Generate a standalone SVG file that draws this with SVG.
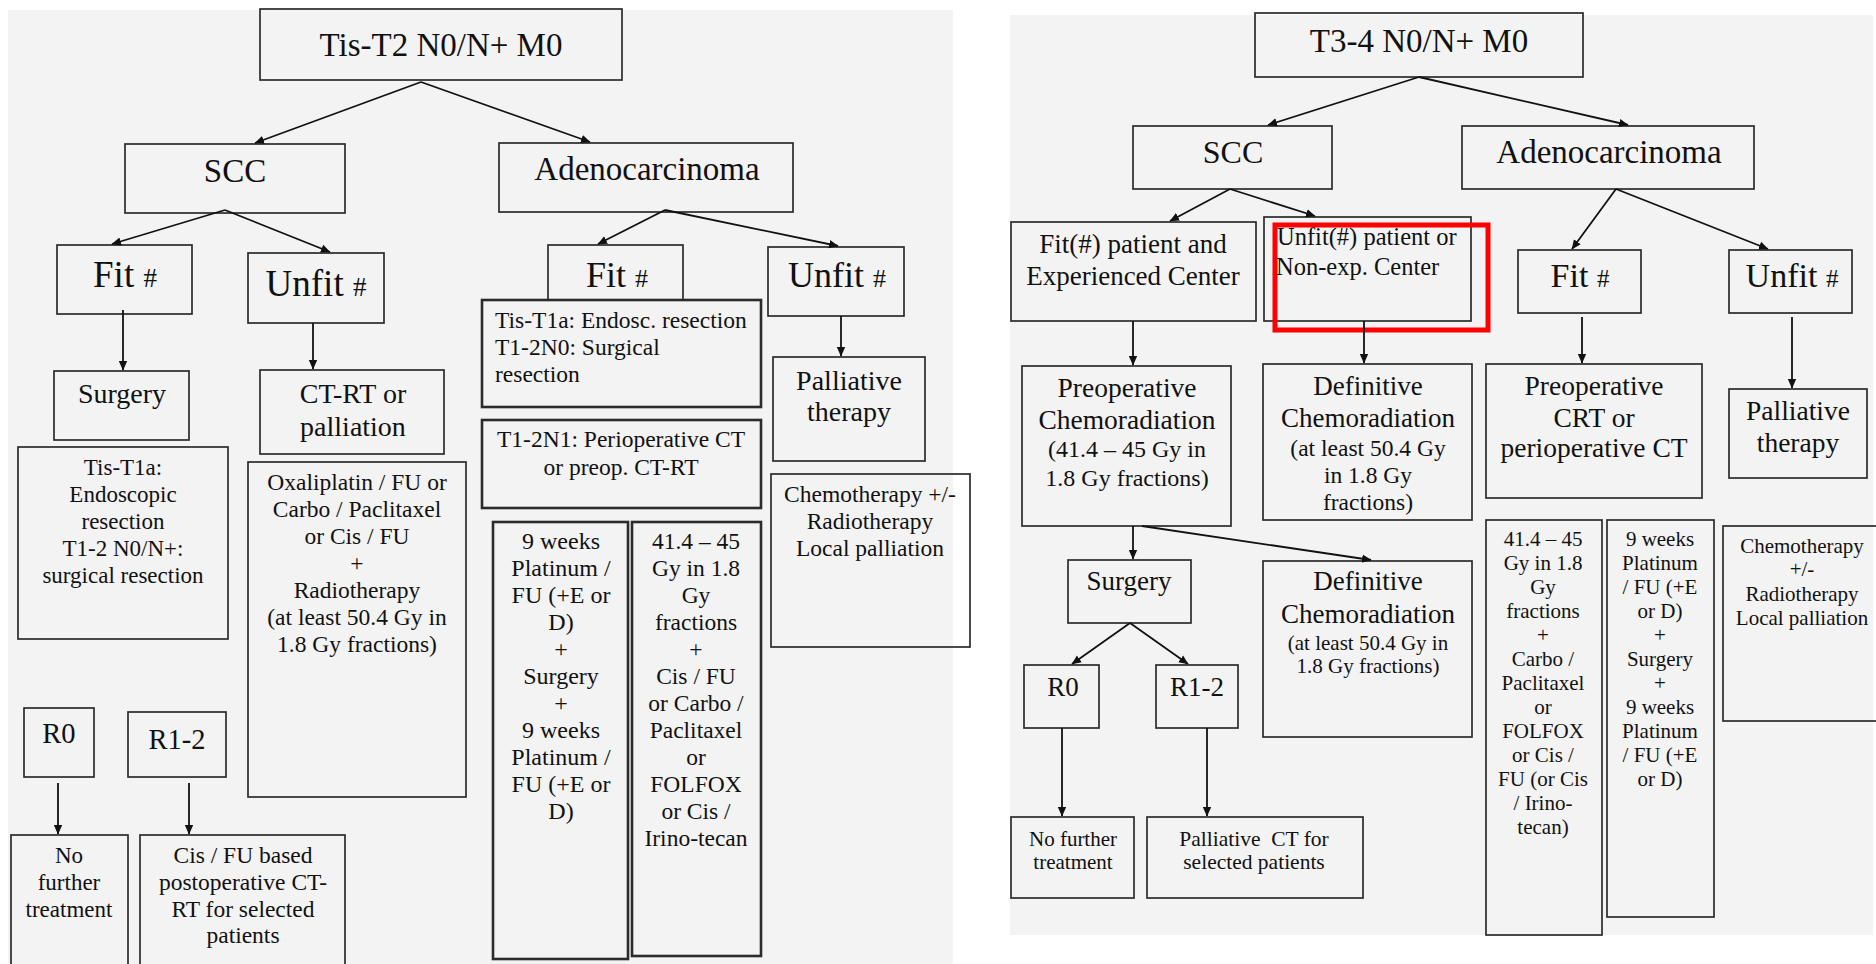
<svg xmlns="http://www.w3.org/2000/svg" width="1876" height="964" viewBox="0 0 1876 964" style="font-family: 'Liberation Serif', serif !important">
  <defs>
    <marker id="arrow" markerUnits="userSpaceOnUse" markerWidth="10" markerHeight="10" refX="9" refY="5" orient="auto">
      <path d="M0,0.8 L9.5,5 L0,9.2 z" fill="#111"/>
    </marker>
  </defs>
  <style>
    text, tspan { font-family: 'Liberation Serif', serif !important; }
    text { fill: #111; text-anchor: middle; }
    .l { text-anchor: start; }
    .panel { fill: #f3f3f3; }
    .box { fill: none; stroke: #2b2b2b; stroke-width: 1.7; }
    .boxf { fill: #f3f3f3; stroke: #2b2b2b; stroke-width: 2.6; }
    .thick { stroke-width: 2.6; }
    .hl { fill: none; stroke: #ff0000; stroke-width: 5; }
    .conn line { stroke: #111; stroke-width: 1.8; marker-end: url(#arrow); }
  </style>

  <rect width="1876" height="964" fill="#ffffff"/>
  <!-- two side-by-side flowcharts -->
  <rect class="panel" x="8" y="10" width="945" height="954"/>
  <rect class="panel" x="1010" y="15" width="863" height="920"/>

  <!-- ===== Tis-T2 flowchart ===== -->
  <g id="chart-left">
  <g id="top-left"><rect class="box" x="260" y="9" width="362" height="71"/>
    <text font-family="Liberation Serif" x="441" y="56" font-size="33">Tis-T2 N0/N+ M0</text></g>
  <g id="scc-left"><rect class="box" x="125" y="144" width="220" height="69"/>
    <text font-family="Liberation Serif" x="235" y="182" font-size="33">SCC</text></g>
  <g id="adeno-left"><rect class="box" x="499" y="143" width="294" height="69"/>
    <text font-family="Liberation Serif" x="647" y="180" font-size="33">Adenocarcinoma</text></g>
  <g id="fit-scc-left"><rect class="box" x="57" y="245" width="135" height="69"/>
    <text font-family="Liberation Serif" x="125" y="287" font-size="37">Fit <tspan font-size="27">#</tspan></text></g>
  <g id="unfit-scc-left"><rect class="box" x="248" y="253" width="136" height="70"/>
    <text font-family="Liberation Serif" x="316" y="296" font-size="37">Unfit <tspan font-size="27">#</tspan></text></g>
  <g id="surgery-left"><rect class="box" x="54" y="371" width="135" height="69"/>
    <text font-family="Liberation Serif" x="122" y="403" font-size="28">Surgery</text></g>
  <g id="ctrt-left"><rect class="box" x="260" y="370" width="184" height="84"/>
    <text font-family="Liberation Serif" x="353" y="403" font-size="28">CT-RT or</text>
    <text font-family="Liberation Serif" x="353" y="436" font-size="28">palliation</text></g>
  <g id="surgery-detail-left"><rect class="box" x="18" y="447" width="210" height="192"/>
    <text font-family="Liberation Serif" font-size="23"><tspan x="123" y="475">Tis-T1a:</tspan><tspan x="123" y="502">Endoscopic</tspan><tspan x="123" y="529">resection</tspan><tspan x="123" y="556">T1-2 N0/N+:</tspan><tspan x="123" y="583">surgical resection</tspan></text></g>
  <g id="ctrt-detail-left"><rect class="box" x="248" y="462" width="218" height="335"/>
    <text font-family="Liberation Serif" font-size="23.5"><tspan x="357" y="490">Oxaliplatin / FU or</tspan><tspan x="357" y="517">Carbo / Paclitaxel</tspan><tspan x="357" y="544">or Cis / FU</tspan><tspan x="357" y="571">+</tspan><tspan x="357" y="598">Radiotherapy</tspan><tspan x="357" y="625">(at least 50.4 Gy in</tspan><tspan x="357" y="652">1.8 Gy fractions)</tspan></text></g>
  <g id="r0-left"><rect class="box" x="24" y="708" width="70" height="69"/>
    <text font-family="Liberation Serif" x="59" y="743" font-size="28.5">R0</text></g>
  <g id="r12-left"><rect class="box" x="128" y="712" width="98" height="65"/>
    <text font-family="Liberation Serif" x="177" y="749" font-size="28.5">R1-2</text></g>
  <g id="no-further-left"><rect class="box" x="11" y="835" width="117" height="140"/>
    <text font-family="Liberation Serif" font-size="23"><tspan x="69" y="863">No</tspan><tspan x="69" y="890">further</tspan><tspan x="69" y="917">treatment</tspan></text></g>
  <g id="postop-left"><rect class="box" x="140" y="835" width="205" height="140"/>
    <text font-family="Liberation Serif" font-size="23.5"><tspan x="243" y="863">Cis / FU based</tspan><tspan x="243" y="890">postoperative CT-</tspan><tspan x="243" y="917">RT for selected</tspan><tspan x="243" y="943">patients</tspan></text></g>

  <g id="fit-adeno-left"><rect class="box" x="548" y="245" width="135" height="60"/>
    <text font-family="Liberation Serif" x="617" y="287" font-size="36">Fit <tspan font-size="26">#</tspan></text></g>
  <g id="unfit-adeno-left"><rect class="box" x="768" y="247" width="136" height="69"/>
    <text font-family="Liberation Serif" x="837" y="287" font-size="36">Unfit <tspan font-size="26">#</tspan></text></g>
  <g id="resection-adeno-left"><rect class="boxf" x="482" y="300" width="279" height="107"/>
    <text class="l" font-family="Liberation Serif" font-size="23.5"><tspan x="495" y="328">Tis-T1a: Endosc. resection</tspan><tspan x="495" y="355">T1-2N0: Surgical</tspan><tspan x="495" y="382">resection</tspan></text></g>
  <g id="palliative-left"><rect class="box" x="773" y="357" width="152" height="104"/>
    <text font-family="Liberation Serif" x="849" y="390" font-size="28">Palliative</text>
    <text font-family="Liberation Serif" x="849" y="421" font-size="28">therapy</text></g>
  <g id="periop-left"><rect class="box thick" x="482" y="420" width="279" height="88"/>
    <text font-family="Liberation Serif" font-size="23.5"><tspan x="621" y="447">T1-2N1: Perioperative CT</tspan><tspan x="621" y="475">or preop. CT-RT</tspan></text></g>
  <g id="weeks-left"><rect class="box thick" x="493" y="522" width="135" height="437"/>
    <text font-family="Liberation Serif" font-size="24"><tspan x="561" y="549">9 weeks</tspan><tspan x="561" y="576">Platinum /</tspan><tspan x="561" y="603">FU (+E or</tspan><tspan x="561" y="630">D)</tspan><tspan x="561" y="657">+</tspan><tspan x="561" y="684">Surgery</tspan><tspan x="561" y="711">+</tspan><tspan x="561" y="738">9 weeks</tspan><tspan x="561" y="765">Platinum /</tspan><tspan x="561" y="792">FU (+E or</tspan><tspan x="561" y="819">D)</tspan></text></g>
  <g id="gy-left"><rect class="box thick" x="632" y="522" width="129" height="434"/>
    <text font-family="Liberation Serif" font-size="23.5"><tspan x="696" y="549">41.4 – 45</tspan><tspan x="696" y="576">Gy in 1.8</tspan><tspan x="696" y="603">Gy</tspan><tspan x="696" y="630">fractions</tspan><tspan x="696" y="657">+</tspan><tspan x="696" y="684">Cis / FU</tspan><tspan x="696" y="711">or Carbo /</tspan><tspan x="696" y="738">Paclitaxel</tspan><tspan x="696" y="765">or</tspan><tspan x="696" y="792">FOLFOX</tspan><tspan x="696" y="819">or Cis /</tspan><tspan x="696" y="846">Irino-tecan</tspan></text></g>
  <g id="chemo-left"><rect class="box" x="771" y="474" width="199" height="173"/>
    <text font-family="Liberation Serif" font-size="23.5"><tspan x="870" y="502">Chemotherapy +/-</tspan><tspan x="870" y="529">Radiotherapy</tspan><tspan x="870" y="556">Local palliation</tspan></text></g>
  </g>

  <!-- ===== T3-4 flowchart ===== -->
  <g id="chart-right">
  <g id="top-right"><rect class="box" x="1255" y="13" width="328" height="64"/>
    <text font-family="Liberation Serif" x="1419" y="52" font-size="33">T3-4 N0/N+ M0</text></g>
  <g id="scc-right"><rect class="box" x="1133" y="126" width="199" height="63"/>
    <text font-family="Liberation Serif" x="1233" y="163" font-size="32">SCC</text></g>
  <g id="adeno-right"><rect class="box" x="1462" y="126" width="292" height="63"/>
    <text font-family="Liberation Serif" x="1609" y="163" font-size="33">Adenocarcinoma</text></g>
  <g id="fit-center-right"><rect class="box" x="1011" y="222" width="245" height="99"/>
    <text font-family="Liberation Serif" font-size="27"><tspan x="1133" y="253">Fit(#) patient and</tspan><tspan x="1133" y="285">Experienced Center</tspan></text></g>
  <g id="unfit-center-right"><rect class="box" x="1264" y="217" width="207" height="104"/>
    <text class="l" font-family="Liberation Serif" font-size="24.5"><tspan x="1277" y="245">Unfit(#) patient or</tspan><tspan x="1276" y="275">Non-exp. Center</tspan></text></g>
  <rect id="highlight" class="hl" x="1275" y="225" width="213" height="105"/>
  <g id="fit-adeno-right"><rect class="box" x="1518" y="250" width="123" height="63"/>
    <text font-family="Liberation Serif" x="1580" y="287" font-size="34">Fit <tspan font-size="25">#</tspan></text></g>
  <g id="unfit-adeno-right"><rect class="box" x="1729" y="250" width="123" height="63"/>
    <text font-family="Liberation Serif" x="1792" y="287" font-size="34">Unfit <tspan font-size="25">#</tspan></text></g>
  <g id="preop-crt"><rect class="box" x="1022" y="366" width="209" height="160"/>
    <text font-family="Liberation Serif" x="1127" y="397" font-size="27.5">Preoperative</text>
    <text font-family="Liberation Serif" x="1127" y="429" font-size="27.5">Chemoradiation</text>
    <text font-family="Liberation Serif" font-size="24"><tspan x="1127" y="457">(41.4 – 45 Gy in</tspan><tspan x="1127" y="486">1.8 Gy fractions)</tspan></text></g>
  <g id="definitive-1"><rect class="box" x="1263" y="364" width="209" height="156"/>
    <text font-family="Liberation Serif" x="1368" y="395" font-size="27">Definitive</text>
    <text font-family="Liberation Serif" x="1368" y="427" font-size="27">Chemoradiation</text>
    <text font-family="Liberation Serif" font-size="23.5"><tspan x="1368" y="456">(at least 50.4 Gy</tspan><tspan x="1368" y="483">in 1.8 Gy</tspan><tspan x="1368" y="510">fractions)</tspan></text></g>
  <g id="preop-periop-right"><rect class="box" x="1486" y="364" width="216" height="134"/>
    <text font-family="Liberation Serif" font-size="27.5"><tspan x="1594" y="395">Preoperative</tspan><tspan x="1594" y="427">CRT or</tspan><tspan x="1594" y="457">perioperative CT</tspan></text></g>
  <g id="palliative-right"><rect class="box" x="1729" y="389" width="138" height="89"/>
    <text font-family="Liberation Serif" font-size="27.5"><tspan x="1798" y="420">Palliative</tspan><tspan x="1798" y="452">therapy</tspan></text></g>
  <g id="surgery-right"><rect class="box" x="1068" y="560" width="123" height="63"/>
    <text font-family="Liberation Serif" x="1129" y="590" font-size="27">Surgery</text></g>
  <g id="definitive-2"><rect class="box" x="1263" y="561" width="209" height="176"/>
    <text font-family="Liberation Serif" x="1368" y="590" font-size="27">Definitive</text>
    <text font-family="Liberation Serif" x="1368" y="623" font-size="27">Chemoradiation</text>
    <text font-family="Liberation Serif" font-size="21"><tspan x="1368" y="650">(at least 50.4 Gy in</tspan><tspan x="1368" y="673">1.8 Gy fractions)</tspan></text></g>
  <g id="r0-right"><rect class="box" x="1024" y="665" width="75" height="63"/>
    <text font-family="Liberation Serif" x="1063" y="696" font-size="27">R0</text></g>
  <g id="r12-right"><rect class="box" x="1156" y="665" width="82" height="63"/>
    <text font-family="Liberation Serif" x="1197" y="696" font-size="27">R1-2</text></g>
  <g id="no-further-right"><rect class="box" x="1011" y="817" width="123" height="81"/>
    <text font-family="Liberation Serif" font-size="21"><tspan x="1073" y="846">No further</tspan><tspan x="1073" y="869">treatment</tspan></text></g>
  <g id="palliative-ct-right"><rect class="box" x="1147" y="817" width="216" height="81"/>
    <text font-family="Liberation Serif" font-size="21.5"><tspan x="1254" y="846">Palliative&#160; CT for</tspan><tspan x="1254" y="869">selected patients</tspan></text></g>
  <g id="gy-right"><rect class="box" x="1486" y="520" width="116" height="415"/>
    <text font-family="Liberation Serif" font-size="21"><tspan x="1543" y="546">41.4 – 45</tspan><tspan x="1543" y="570">Gy in 1.8</tspan><tspan x="1543" y="594">Gy</tspan><tspan x="1543" y="618">fractions</tspan><tspan x="1543" y="642">+</tspan><tspan x="1543" y="666">Carbo /</tspan><tspan x="1543" y="690">Paclitaxel</tspan><tspan x="1543" y="714">or</tspan><tspan x="1543" y="738">FOLFOX</tspan><tspan x="1543" y="762">or Cis /</tspan><tspan x="1543" y="786">FU (or Cis</tspan><tspan x="1543" y="810">/ Irino-</tspan><tspan x="1543" y="834">tecan)</tspan></text></g>
  <g id="weeks-right"><rect class="box" x="1607" y="520" width="107" height="397"/>
    <text font-family="Liberation Serif" font-size="21"><tspan x="1660" y="546">9 weeks</tspan><tspan x="1660" y="570">Platinum</tspan><tspan x="1660" y="594">/ FU (+E</tspan><tspan x="1660" y="618">or D)</tspan><tspan x="1660" y="642">+</tspan><tspan x="1660" y="666">Surgery</tspan><tspan x="1660" y="690">+</tspan><tspan x="1660" y="714">9 weeks</tspan><tspan x="1660" y="738">Platinum</tspan><tspan x="1660" y="762">/ FU (+E</tspan><tspan x="1660" y="786">or D)</tspan></text></g>
  <g id="chemo-right"><rect class="box" x="1723" y="526" width="160" height="195"/>
    <text font-family="Liberation Serif" font-size="21"><tspan x="1802" y="553">Chemotherapy</tspan><tspan x="1802" y="576">+/-</tspan><tspan x="1802" y="601">Radiotherapy</tspan><tspan x="1802" y="625">Local palliation</tspan></text></g>
  </g>

  <!-- connectors -->
  <g id="connectors" class="conn">
    <line x1="421" y1="82" x2="255" y2="143"/>
    <line x1="421" y1="82" x2="590" y2="142"/>
    <line x1="225" y1="210" x2="112" y2="244"/>
    <line x1="225" y1="210" x2="330" y2="252"/>
    <line x1="665" y1="210" x2="598" y2="244"/>
    <line x1="665" y1="210" x2="838" y2="246"/>
    <line x1="123" y1="310" x2="123" y2="370"/>
    <line x1="313" y1="323" x2="313" y2="369"/>
    <line x1="841" y1="316" x2="841" y2="356"/>
    <line x1="58" y1="783" x2="58" y2="834"/>
    <line x1="189" y1="783" x2="189" y2="834"/>

    <line x1="1419" y1="77" x2="1268" y2="125"/>
    <line x1="1419" y1="77" x2="1628" y2="125"/>
    <line x1="1230" y1="189" x2="1170" y2="221"/>
    <line x1="1230" y1="189" x2="1315" y2="216"/>
    <line x1="1616" y1="189" x2="1572" y2="249"/>
    <line x1="1616" y1="189" x2="1768" y2="249"/>
    <line x1="1133" y1="321" x2="1133" y2="365"/>
    <line x1="1364" y1="321" x2="1364" y2="363"/>
    <line x1="1582" y1="317" x2="1582" y2="363"/>
    <line x1="1792" y1="317" x2="1792" y2="388"/>
    <line x1="1133" y1="526" x2="1133" y2="559"/>
    <line x1="1142" y1="526" x2="1371" y2="560"/>
    <line x1="1130" y1="623" x2="1072" y2="664"/>
    <line x1="1130" y1="623" x2="1188" y2="664"/>
    <line x1="1062" y1="728" x2="1062" y2="816"/>
    <line x1="1207" y1="728" x2="1207" y2="816"/>
  </g>
</svg>
